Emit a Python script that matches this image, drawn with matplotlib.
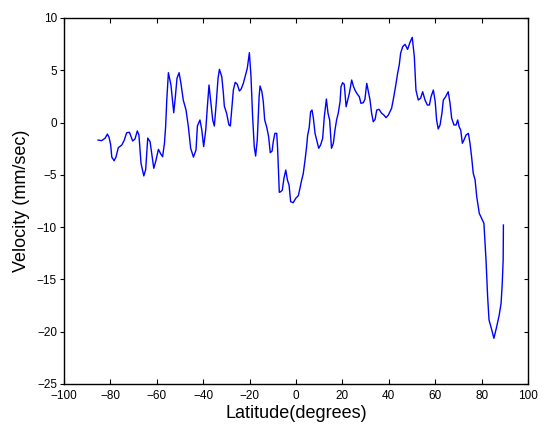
import numpy as np
import matplotlib as mpl
mpl.use('Agg')
import matplotlib.pyplot as plt

plt.rcParams['font.family'] = ['Liberation Sans', 'DejaVu Sans']

# Velocity profile vs latitude
lat = [-85.3, -83.8, -82.3, -81.3, -80.6, -79.9, -79.4, -78.4, -77.6, -76.6,
       -75.1, -74.0, -73.0, -71.8, -71.1, -70.4, -69.4, -68.4, -67.7, -66.8,
       -65.6, -64.8, -63.9, -62.9, -62.2, -61.3, -60.5, -59.3, -58.3, -57.5,
       -56.7, -56.2, -55.7, -55.0, -53.9, -52.7, -52.0, -51.3, -50.4, -49.6,
       -48.6, -47.4, -46.4, -45.4, -44.2, -43.1, -42.5, -41.4, -40.6, -39.8,
       -38.9, -38.2, -37.5, -36.8, -35.9, -35.2, -34.5, -33.6, -33.0, -32.0,
       -31.3, -30.9, -29.9, -28.9, -28.3, -27.6, -27.0, -26.2, -25.3, -24.4,
       -23.7, -22.7, -22.0, -21.0, -20.1, -19.4, -18.7, -18.0, -17.4, -16.7,
       -15.9, -15.5, -14.7, -14.1, -13.5, -12.6, -11.8, -11.1, -10.3, -9.8,
       -9.1, -8.3, -7.9, -7.2, -6.5, -5.9, -5.2, -4.4, -3.7, -3.0,
       -2.3, -1.2, -0.1, 1.0, 1.7, 2.5, 3.1, 3.9, 4.6, 5.0,
       5.7, 6.3, 6.9, 7.5, 8.2, 8.9, 9.8, 10.6, 11.5, 12.2,
       13.1, 13.8, 14.5, 15.3, 16.1, 16.8, 17.5, 18.2, 19.0, 19.4,
       20.1, 20.8, 21.6, 22.3, 23.0, 24.0, 24.7, 25.4, 26.4, 27.3,
       28.0, 29.0, 29.7, 30.5, 31.2, 31.9, 32.6, 33.3, 34.1, 34.8,
       35.8, 36.9, 37.9, 38.8, 39.8, 41.2, 41.9, 42.9, 43.8, 44.5,
       45.1, 46.0, 47.0, 48.1, 49.1, 50.1, 51.0, 51.7, 52.7, 53.7,
       54.6, 55.6, 56.6, 57.5, 58.2, 59.2, 60.0, 60.6, 61.3, 62.1,
       62.9, 63.5, 64.5, 65.6, 66.4, 67.1, 68.1, 69.0, 69.7, 70.3,
       71.0, 71.7, 72.4, 73.3, 74.3, 75.0, 75.7, 76.4, 77.2, 77.9,
       79.0, 80.0, 81.0, 81.9, 82.6, 83.2, 84.4, 85.3, 86.5, 87.6,
       88.4, 88.9, 89.3, 89.4]
vel = [-1.67, -1.73, -1.5, -1.1, -1.4, -2.1, -3.3, -3.65, -3.3, -2.4,
       -2.15, -1.67, -0.97, -0.93, -1.35, -1.76, -1.57, -0.8, -1.19, -3.9,
       -5.1, -4.5, -1.48, -1.83, -2.94, -4.37, -3.74, -2.56, -3.0, -3.26,
       -1.98, -0.39, 2.16, 4.77, 3.59, 0.94, 2.47, 4.23, 4.77, 3.75,
       2.16, 1.2, -0.39, -2.46, -3.3, -2.62, -0.33, 0.25, -0.71, -2.3,
       -0.71, 1.52, 3.59, 2.16, 0.25, -0.33, 1.52, 4.23, 5.09, 4.39,
       2.8, 1.58, 0.88, -0.23, -0.33, 1.52, 3.11, 3.85, 3.66, 3.02,
       3.18, 3.75, 4.33, 5.19, 6.68, 4.39, 0.56, -2.3, -3.2, -1.67,
       2.47, 3.5, 2.95, 2.0, 0.25, -0.45, -1.35, -2.88, -2.72, -1.83,
       -1.03, -1.03, -2.62, -6.67, -6.6, -6.45, -5.33, -4.54, -5.49, -5.97,
       -7.57, -7.66, -7.24, -6.99, -6.29, -5.43, -4.92, -3.58, -2.24, -1.25,
       -0.45, 1.04, 1.2, 0.41, -1.03, -1.67, -2.46, -2.14, -1.5, 0.56,
       2.25, 0.89, 0.25, -2.46, -1.98, -0.71, 0.25, 0.89, 2.0, 3.43,
       3.81, 3.66, 1.52, 2.16, 2.8, 4.07, 3.5, 3.11, 2.73, 2.47,
       1.84, 1.9, 2.22, 3.75, 2.95, 2.16, 0.89, 0.08, 0.31, 1.2,
       1.27, 0.89, 0.72, 0.47, 0.72, 1.36, 2.16, 3.43, 4.71, 5.51,
       6.63, 7.26, 7.48, 7.0, 7.65, 8.15, 6.3, 3.11, 2.16, 2.32,
       2.95, 2.16, 1.68, 1.68, 2.47, 3.11, 2.0, 0.25, -0.61, -0.23,
       0.89, 2.16, 2.47, 2.95, 1.84, 0.41, -0.23, -0.23, 0.25, -0.4,
       -0.71, -1.98, -1.67, -1.19, -1.03, -1.98, -3.3, -4.85, -5.49, -7.09,
       -8.68, -9.15, -9.63, -13.14, -16.65, -18.88, -19.84, -20.63, -19.52, -18.4,
       -17.28, -15.37, -13.1, -9.8]

fig = plt.figure(figsize=(5.44, 4.25), dpi=100)
ax = fig.add_axes([64/544, 41/425, 464/544, 366/425])
ax.plot(lat, vel, color='#0000ff', lw=1.0)

ax.set_xlim(-100, 100)
ax.set_ylim(-25, 10)
ax.set_xticks(np.arange(-100, 101, 20))
ax.set_yticks(np.arange(-25, 11, 5))
ax.tick_params(axis='x', direction='in', length=3.5, width=0.8, pad=4,
               labelsize=8.5, top=True)
ax.tick_params(axis='y', direction='out', length=3, width=0.8, pad=2,
               labelsize=8.5)
ax.tick_params(axis='y', which='both', right=True)
for t in ax.yaxis.get_major_ticks():
    t.tick2line.set_marker(mpl.lines.TICKLEFT)
for s in ax.spines.values():
    s.set_linewidth(1.0)

ax.set_xlabel('Latitude(degrees)', fontsize=13, labelpad=2.5)
ax.set_ylabel('Velocity (mm/sec)', fontsize=13, labelpad=5)

fig.savefig('out.png', dpi=100)
